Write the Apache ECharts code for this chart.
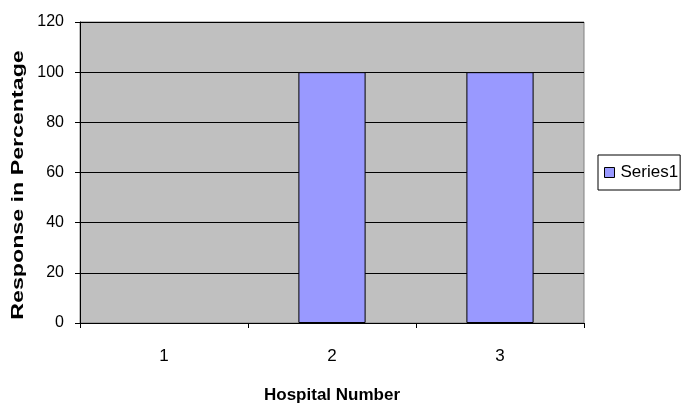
<!DOCTYPE html>
<html><head><meta charset="utf-8">
<script src="https://cdn.jsdelivr.net/npm/echarts@6/dist/echarts.min.js"></script>
<style>html,body{margin:0;padding:0;background:#fff}#c{width:681px;height:409px}</style>
</head><body><div id="c"></div>
<script>
const categories = ['1', '2', '3'];
const series1 = [0, 100, 100];
const yTicks = [0, 20, 40, 60, 80, 100, 120];
const xTitle = 'Hospital Number';
const yTitle = 'Response in Percentage';
const seriesName = 'Series1';

const FONT = '"Liberation Sans", Arial, sans-serif';
const chart = echarts.init(document.getElementById('c'), null, {renderer: 'canvas'});
chart.setOption({
  animation: false,
  grid: {left: 80, right: 97, top: 22, bottom: 84, show: true, backgroundColor: '#C0C0C0', borderColor: '#808080', borderWidth: 1, containLabel: false},
  legend: {
    show: true, left: 598, top: 155, orient: 'vertical',
    data: [seriesName],
    icon: 'rect', itemWidth: 10, itemHeight: 10, itemGap: 4,
    borderColor: '#000', borderWidth: 1, padding: [9, 2, 9, 6],
    textStyle: {fontFamily: FONT, fontSize: 17, color: '#000', padding: [0, 0, 0, 1]},
    itemStyle: {borderColor: '#000', borderWidth: 1}
  },
  graphic: [{
    type: 'text', x: 19, y: 185, rotation: Math.PI / 2, scaleX: 1.45, scaleY: 1,
    style: {text: yTitle, fontFamily: FONT, fontWeight: 'bold', fontSize: 16,
      fill: '#000', align: 'center', verticalAlign: 'middle'}
  }],
  xAxis: {
    type: 'category', data: categories,
    name: xTitle, nameLocation: 'middle', nameGap: 64,
    nameTextStyle: {fontFamily: FONT, fontWeight: 'bold', fontSize: 17, color: '#000'},
    axisLine: {lineStyle: {color: '#000', width: 1}},
    axisTick: {show: true, length: 5, lineStyle: {color: '#000'}, alignWithLabel: false},
    axisLabel: {fontFamily: FONT, fontSize: 17, color: '#000', margin: 25}
  },
  yAxis: {
    type: 'value', min: 0, max: 120, interval: 20,
    axisLine: {show: true, lineStyle: {color: '#000', width: 1}},
    axisTick: {show: true, length: 5, lineStyle: {color: '#000'}},
    axisLabel: {fontFamily: FONT, fontSize: 16, color: '#000', margin: 16,
      formatter: v => yTicks.includes(v) ? String(v) : ''},
    splitLine: {show: true, lineStyle: {color: '#000', width: 1}}
  },
  series: [{
    name: seriesName, type: 'bar', barWidth: '40%',
    data: series1.map(v => ({value: v, itemStyle: v === 0 ? {borderWidth: 0} : {}})),
    itemStyle: {color: '#9999FF', borderColor: '#000', borderWidth: 1}
  }]
});
</script></body></html>
